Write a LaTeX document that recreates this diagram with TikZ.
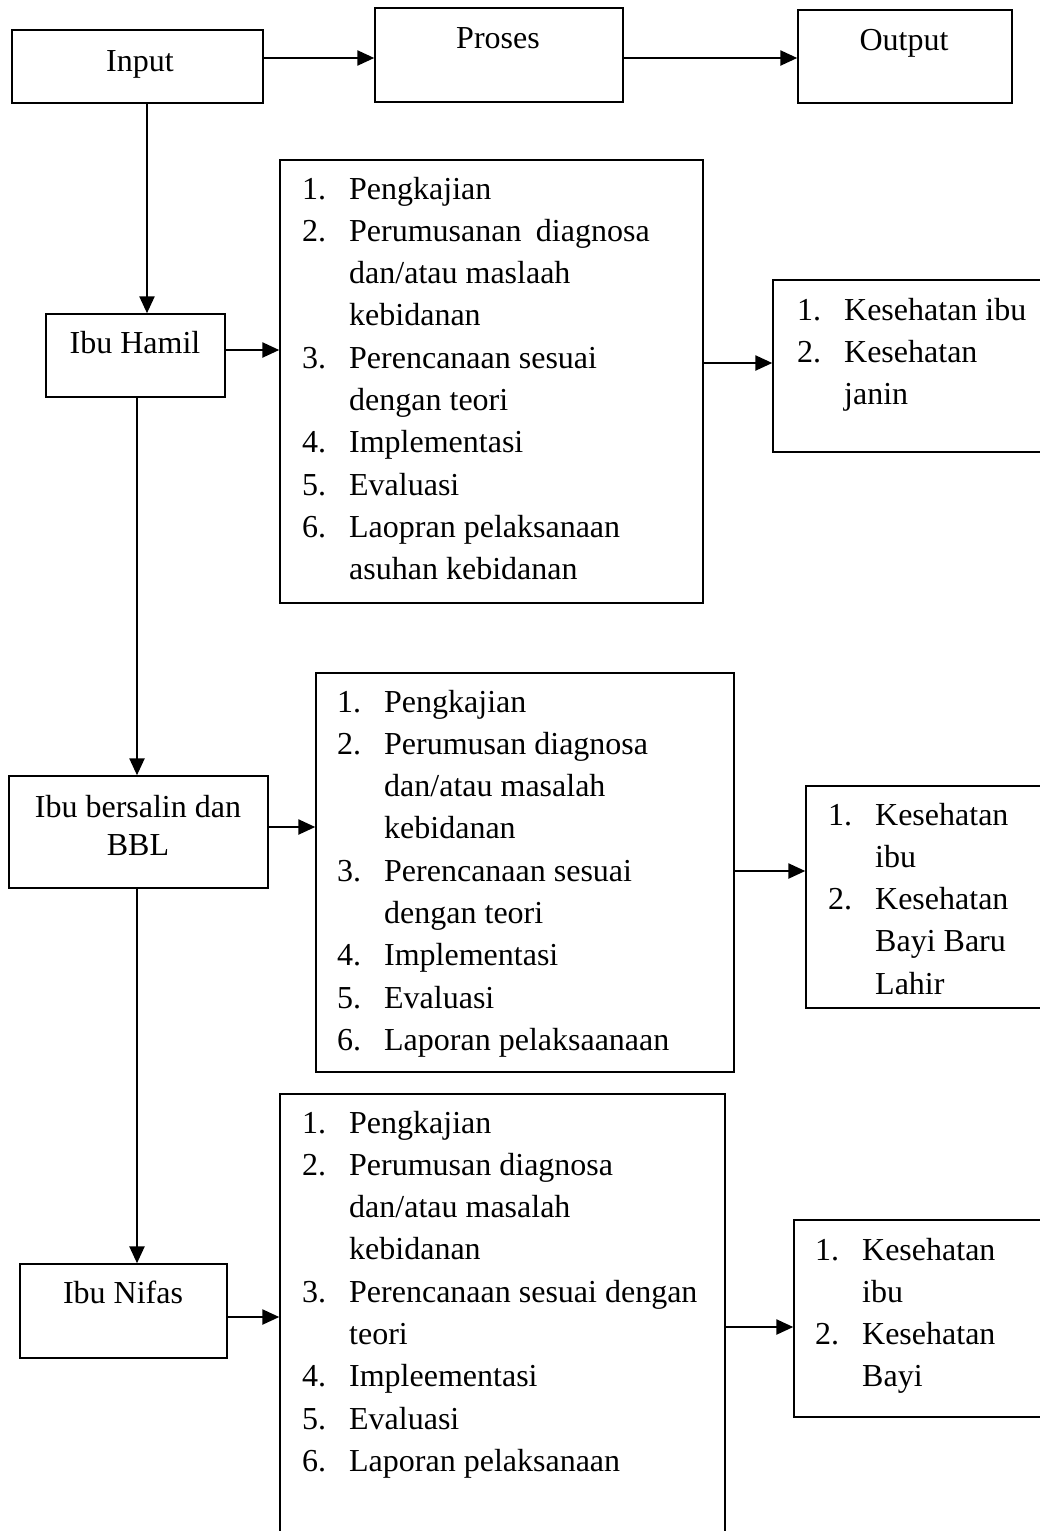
\documentclass[tikz,border=0pt]{standalone}
\usepackage{fontspec}
\setmainfont{Liberation Serif}
\usetikzlibrary{arrows.meta}
\newcommand\numitem[2]{\makebox[47pt][l]{#1}#2}
\newcommand\contitem[1]{\hspace*{47pt}#1}
\newcommand\listbox[2]{\parbox[t]{#1}{\fontsize{32pt}{42.3pt}\selectfont\raggedright #2}}
\begin{document}
\begin{tikzpicture}[x=1pt,y=-1pt,
  box/.style={draw, line width=1.4pt, inner sep=0pt, rectangle},
  arr/.style={line width=2.4pt, -{Triangle[length=17pt,width=15pt]}},
  lbl/.style={inner sep=0pt, anchor=base, font=\fontsize{32pt}{42.3pt}\selectfont},
  lst/.style={inner sep=0pt, anchor=base west}]
\path[use as bounding box] (0,0) rectangle (1040,1531);
\fill[white] (0,0) rectangle (1040,1531);
\clip (0,0) rectangle (1040,1531);

% top row
\node[box, minimum width=251pt, minimum height=73pt] (input) at (137.5,66.5) {};
\node[box, minimum width=248pt, minimum height=94pt] (proses) at (499,55) {};
\node[box, minimum width=214pt, minimum height=93pt] (output) at (905,56.5) {};
\node[lbl] (tinput) at (140,71) {Input};
\node[lbl] (tproses) at (498,48) {Proses};
\node[lbl] (toutput) at (904,50) {Output};

% left column
\node[box, minimum width=179pt, minimum height=83pt] (hamil) at (135.5,355.5) {};
\node[box, minimum width=259pt, minimum height=112pt] (bersalin) at (138.5,832) {};
\node[box, minimum width=207pt, minimum height=94pt] (nifas) at (123.5,1311) {};
\node[lbl] (thamil) at (135,353) {Ibu Hamil};
\node[lbl] (tbersalin1) at (138,817) {Ibu bersalin dan};
\node[lbl] (tbersalin2) at (138,855) {BBL};
\node[lbl] (tnifas) at (123,1303) {Ibu Nifas};

% process boxes
\node[box, minimum width=423pt, minimum height=443pt] (p1) at (491.5,381.5) {};
\node[box, minimum width=418pt, minimum height=399pt] (p2) at (525,872.5) {};
\node[box, minimum width=445pt, minimum height=466pt] (p3) at (502.5,1327) {};

\node[lst] (tp1) at (302,199) {\listbox{420pt}{%
\numitem{1.}{Pengkajian}\\
\numitem{2.}{Perumusanan\hspace{0.2em} diagnosa}\\
\contitem{dan/atau maslaah}\\
\contitem{kebidanan}\\
\numitem{3.}{Perencanaan sesuai}\\
\contitem{dengan teori}\\
\numitem{4.}{Implementasi}\\
\numitem{5.}{Evaluasi}\\
\numitem{6.}{Laopran pelaksanaan}\\
\contitem{asuhan kebidanan}}};

\node[lst] (tp2) at (337,712) {\listbox{420pt}{%
\numitem{1.}{Pengkajian}\\
\numitem{2.}{Perumusan diagnosa}\\
\contitem{dan/atau masalah}\\
\contitem{kebidanan}\\
\numitem{3.}{Perencanaan sesuai}\\
\contitem{dengan teori}\\
\numitem{4.}{Implementasi}\\
\numitem{5.}{Evaluasi}\\
\numitem{6.}{Laporan pelaksaanaan}}};

\node[lst] (tp3) at (302,1133) {\listbox{440pt}{%
\numitem{1.}{Pengkajian}\\
\numitem{2.}{Perumusan diagnosa}\\
\contitem{dan/atau masalah}\\
\contitem{kebidanan}\\
\numitem{3.}{Perencanaan sesuai dengan}\\
\contitem{teori}\\
\numitem{4.}{Impleementasi}\\
\numitem{5.}{Evaluasi}\\
\numitem{6.}{Laporan pelaksanaan}}};

% output boxes (cut by the right edge)
\node[box, minimum width=287pt, minimum height=172pt] (o1) at (916.5,366) {};
\node[box, minimum width=254pt, minimum height=222pt] (o2) at (933,897) {};
\node[box, minimum width=266pt, minimum height=197pt] (o3) at (927,1318.5) {};

\node[lst] (to1) at (797,320) {\listbox{300pt}{%
\numitem{1.}{Kesehatan ibu}\\
\numitem{2.}{Kesehatan}\\
\contitem{janin}}};
\node[lst] (to2) at (828,825) {\listbox{300pt}{%
\numitem{1.}{Kesehatan}\\
\contitem{ibu}\\
\numitem{2.}{Kesehatan}\\
\contitem{Bayi Baru}\\
\contitem{Lahir}}};
\node[lst] (to3) at (815,1260) {\listbox{300pt}{%
\numitem{1.}{Kesehatan}\\
\contitem{ibu}\\
\numitem{2.}{Kesehatan}\\
\contitem{Bayi}}};

% connectors
\draw[arr] (input.east |- 0,58) -- (proses.west |- 0,58);
\draw[arr] (proses.east |- 0,58) -- (output.west |- 0,58);
\draw[arr] (input.south -| 147,0) -- (hamil.north -| 147,0);
\draw[arr] (hamil.south -| 137,0) -- (bersalin.north -| 137,0);
\draw[arr] (bersalin.south -| 137,0) -- (nifas.north -| 137,0);
\draw[arr] (hamil.east |- 0,350) -- (p1.west |- 0,350);
\draw[arr] (bersalin.east |- 0,827) -- (p2.west |- 0,827);
\draw[arr] (nifas.east |- 0,1317) -- (p3.west |- 0,1317);
\draw[arr] (p1.east |- 0,363) -- (o1.west |- 0,363);
\draw[arr] (p2.east |- 0,871) -- (o2.west |- 0,871);
\draw[arr] (p3.east |- 0,1327) -- (o3.west |- 0,1327);
\end{tikzpicture}
\end{document}
